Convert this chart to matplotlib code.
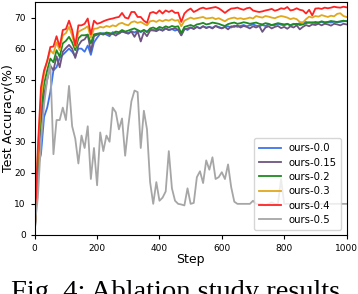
import numpy as np
import matplotlib

matplotlib.use("Agg")
import matplotlib.pyplot as plt

# evaluation every 10 steps
steps = list(range(0, 1001, 10))

acc_00 = [0, 22, 26, 38, 41, 46, 53, 54, 57, 58,
          59, 60, 59, 57.5, 60, 60, 59, 61, 58, 62,
          63.5, 64.8, 65, 64.5, 64, 65.3, 65, 64.8, 65.5, 65.2,
          65, 65.6, 65.2, 65.8, 65.3, 66, 65.5, 66.2, 65.8, 66,
          66.3, 65.8, 66.5, 66, 66.3, 65.8, 66.2, 64.3, 66.5, 66,
          66.8, 66.5, 67, 66.6, 67.2, 66.8, 67, 66.7, 67.3, 67,
          66.6, 67, 67.2, 66.8, 67.4, 67, 67.3, 67.6, 67.2, 67.5,
          67.8, 67.4, 67.2, 67.6, 67.3, 67.8, 67.5, 67.6, 68, 67.7,
          67.5, 67.9, 67.6, 68, 67.8, 68.2, 68.4, 68.6, 68.3, 68.5,
          68.2, 68.4, 68.6, 68.3, 68.5, 68.4, 68.7, 68.5, 68.6, 68.8,
          68.9]
acc_015 = [0, 22, 36, 45, 50, 54.5, 53, 57.5, 54, 59,
           60.2, 61.2, 60, 57, 61, 62.5, 63, 64.5, 59, 64,
           64.5, 64.8, 64.5, 65, 64.6, 64.8, 64.2, 65, 65.5, 65.2,
           64.8, 65.5, 63.8, 65.6, 62.3, 65.3, 64, 65.8, 66, 65.6,
           66.2, 65.8, 66.5, 66, 66.3, 66.6, 66, 64.3, 66.2, 66.5,
           66.8, 66.3, 67, 66.5, 67.2, 66.6, 67, 66.5, 67.3, 66.8,
           66.5, 67, 66.2, 67.2, 67, 67.5, 66.8, 67.3, 67, 66.5,
           67.2, 66.8, 67.3, 65.4, 66.8, 67.2, 66.5, 67, 67.3, 66.6,
           67, 66.4, 67.2, 66.8, 67.5, 66.2, 67, 67.6, 67.2, 67.8,
           67.6, 68, 67.5, 68, 67.8, 67.4, 68, 67.8, 67.5, 68,
           67.8]
acc_02 = [0, 24, 40, 48.7, 53, 56.8, 55.6, 59.5, 57.4, 61.7,
          62.5, 63.8, 62, 59.5, 63.3, 64.3, 64.3, 64.5, 61.7, 64.6,
          64.8, 65, 64.7, 65.2, 65, 64.8, 65.5, 65.3, 66, 65.5,
          65.8, 66.2, 66.5, 66, 65.5, 66, 65.3, 66.5, 66.8, 66.3,
          67, 66.6, 67.2, 66.8, 67.3, 67, 67.2, 65, 67, 67.3,
          67.6, 67.2, 67.8, 68, 68.3, 67.8, 68, 68.4, 68.2, 68,
          67.6, 67.3, 67.9, 68.2, 68.4, 68, 68.2, 68.5, 68.3, 68,
          68.2, 68.4, 68, 67.8, 68.2, 68, 67.6, 67.9, 68.2, 68,
          67.8, 68, 67.5, 67.8, 68, 67.6, 67.8, 68.2, 68.5, 68.3,
          68.6, 68.4, 68.8, 68.5, 68.6, 68.9, 68.7, 68.6, 68.8, 69,
          68.8]
acc_03 = [0, 26, 44, 52, 56, 59.5, 58.4, 62, 59.5, 64.3,
          65, 67, 64.3, 60.5, 65.4, 66, 66.5, 67.2, 63.5, 66.4,
          66.5, 67, 66.8, 67.3, 67, 67.5, 67.2, 68, 68.3, 67.8,
          67.5, 68.5, 68.8, 68.3, 68.6, 68, 67.5, 68.8, 69, 68.6,
          69.2, 68.8, 69.3, 69, 69.5, 69, 69.2, 67.2, 69, 69.5,
          70, 69.6, 69.8, 70, 70.2, 69.7, 69.8, 70, 69.5, 69.8,
          69.3, 68.8, 69.5, 69.8, 70, 69.6, 69.8, 69.5, 69.7, 70,
          69.7, 70.5, 70.2, 70, 70.5, 70.3, 70, 69.8, 70.2, 70.5,
          70.3, 70, 69.5, 69.8, 69.5, 68.6, 68.4, 69.5, 70.3, 70,
          70.5, 70.3, 70.8, 70.5, 70.2, 70.6, 70.4, 71.2, 71.4, 70.5,
          70.2]
acc_04 = [0, 28, 47.5, 53, 56, 60.5, 60.7, 64, 60.5, 66,
          66.3, 69, 66, 61, 67.5, 67.5, 68, 69.7, 64.6, 69,
          68, 68.3, 68.8, 69.2, 69.5, 69.7, 70, 70.2, 71.5, 70,
          69.7, 71.8, 71.8, 70.2, 70.2, 69, 68.3, 71.5, 71.8, 71.3,
          72.3, 71.3, 72.3, 71.8, 72.3, 71.5, 71.6, 68.6, 71.3, 72.3,
          72.9, 71.8, 72.3, 72.9, 73.2, 72.8, 73, 73.2, 73.4, 73,
          72.3, 71.5, 72.3, 72.9, 73, 73.2, 72.8, 72.5, 73, 73.2,
          72.3, 72, 71.8, 72, 72.3, 72.5, 72.8, 72.2, 72.5, 73,
          72.8, 73.4, 72.3, 72.5, 73, 72.5, 72.3, 71.3, 72.5, 70.7,
          72.9, 73, 72.8, 73.2, 73, 73.2, 73.5, 73.3, 73.2, 73.5,
          73.3]
acc_05 = [3, 12, 30, 42, 50, 55, 26, 37, 37, 41,
          37, 48, 35, 31, 23, 32, 28, 35, 18, 28,
          16, 33, 27, 32, 30, 41, 39.5, 34, 37.5, 25.5,
          35, 43, 46.5, 46, 28, 40, 34, 17, 10, 17,
          11, 12, 14, 27, 15, 11, 10, 9.8, 9.5, 15,
          10, 10.3, 18.6, 20.5, 16.7, 24, 21, 25, 18, 18.6,
          20.2, 18, 22.7, 15.4, 10.7, 10, 10, 10, 10, 10,
          11, 10, 10, 10, 9.5, 10, 10.5, 10, 10, 18,
          10, 10, 10, 10, 10, 10, 10, 10, 10, 10,
          10, 10, 10, 10, 10, 10, 10, 10, 10, 10,
          10]

SERIES = [("ours-0.0", acc_00, "#3d74ee"),
          ("ours-0.15", acc_015, "#6e5480"),
          ("ours-0.2", acc_02, "#1f8a1f"),
          ("ours-0.3", acc_03, "#e0a81c"),
          ("ours-0.4", acc_04, "#ff2424"),
          ("ours-0.5", acc_05, "#a6a6a6")]

fig = plt.figure(figsize=(3.58, 2.94), dpi=100)
ax = fig.add_axes([0.097, 0.201, 0.871, 0.792])
for label, ys, color in SERIES:
    ax.plot(steps, ys, color=color, lw=1.3, label=label)

ax.set_xlim(0, 1000)
ax.set_ylim(0, 75)
ax.set_xticks(range(0, 1001, 200))
ax.set_yticks(range(0, 71, 10))
ax.tick_params(labelsize=6.5, length=3, width=0.8)
ax.set_xlabel("Step", fontsize=9, labelpad=0)
ax.set_ylabel("Test Accuracy(%)", fontsize=9)
ax.yaxis.set_label_coords(-0.062, 0.5)
ax.legend(loc="lower right", fontsize=7.3, labelspacing=0.42, handlelength=2.2,
          borderpad=0.5, handletextpad=0.7)

# caption sits below the figure and is cut by the bottom edge, as in the source
fig.text(0.49, -0.017, "Fig. 4: Ablation study results", ha="center",
         va="baseline", fontsize=20.5, family="Liberation Serif")
fig.savefig("out.png", dpi=100)
